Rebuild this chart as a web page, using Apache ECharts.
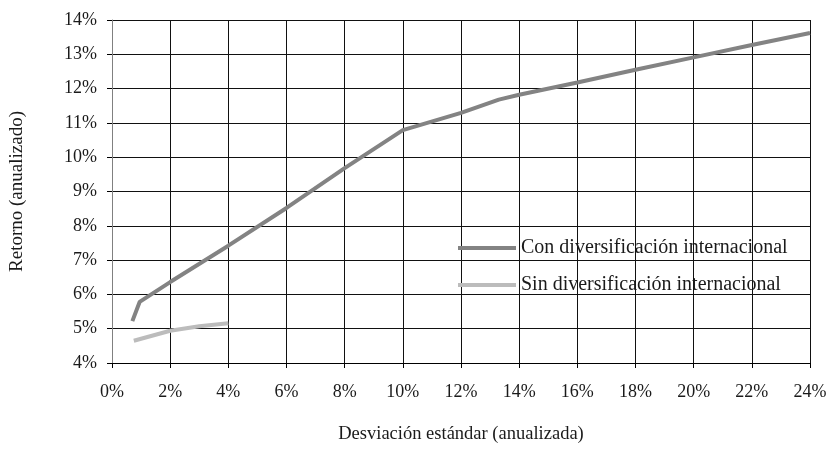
<!DOCTYPE html>
<html>
<head>
<meta charset="utf-8">
<script src="https://cdn.jsdelivr.net/npm/echarts@6/dist/echarts.min.js"></script>
<style>
  html, body { margin: 0; padding: 0; background: #ffffff; }
  #chart { width: 833px; height: 449px; }
</style>
</head>
<body>
<div id="chart"></div>
<script>
// Efficient frontier: standard deviation (x, %) vs annualized return (y, %)
const seriesNames = ['Con diversificación internacional', 'Sin diversificación internacional'];

const conRisk   = [0.70, 0.95, 2.0, 4.0, 6.0, 8.0, 10.0, 12.0, 13.3, 14.0, 16.0, 18.0, 20.0, 22.0, 24.0];
const conReturn = [5.22, 5.78, 6.36, 7.42, 8.52, 9.68, 10.79, 11.29, 11.68, 11.82, 12.18, 12.55, 12.91, 13.27, 13.62];

const sinRisk   = [0.75, 2.0, 3.0, 4.0];
const sinReturn = [4.65, 4.94, 5.07, 5.16];

const xTicks = { min: 0, max: 24, step: 2 };
const yTicks = { min: 4, max: 14, step: 1 };

const zip = (xs, ys) => xs.map((x, i) => [x, ys[i]]);

const fontFamily = '"Liberation Serif", "DejaVu Serif", serif';
const textColor = '#1a1a1a';

const chart = echarts.init(document.getElementById('chart'), null, { renderer: 'canvas' });

const legendBase = {
  orient: 'vertical',
  padding: 0,
  icon: 'rect',
  itemWidth: 58,
  itemHeight: 4,
  textStyle: { fontFamily, fontSize: 20, color: textColor }
};

chart.setOption({
  animation: false,
  backgroundColor: '#ffffff',
  grid: { left: 103, right: 23, top: 20, bottom: 79, containLabel: false },
  legend: [
    Object.assign({}, legendBase, { data: [seriesNames[0]], left: 458, top: 238 }),
    Object.assign({}, legendBase, { data: [seriesNames[1]], left: 458, top: 275 })
  ],
  xAxis: {
    type: 'value',
    min: xTicks.min, max: xTicks.max, interval: xTicks.step,
    name: 'Desviación estándar (anualizada)',
    nameLocation: 'middle', nameGap: 62,
    nameTextStyle: { fontFamily, fontSize: 18.5, color: textColor },
    axisLine: { show: true, lineStyle: { color: '#000000', width: 1 } },
    axisTick: { show: true, inside: false, length: 5, lineStyle: { color: '#000000' } },
    axisLabel: { formatter: '{value}%', margin: 20, fontFamily, fontSize: 18, color: textColor },
    splitLine: { show: true, lineStyle: { color: '#111111', width: 1 } }
  },
  yAxis: {
    type: 'value',
    min: yTicks.min, max: yTicks.max, interval: yTicks.step,
    name: 'Retorno (anualizado)',
    nameLocation: 'middle', nameGap: 85, nameRotate: 90,
    nameTextStyle: { fontFamily, fontSize: 19, color: textColor },
    axisLine: { show: true, lineStyle: { color: '#808080', width: 1 } },
    axisTick: { show: true, inside: false, length: 5, lineStyle: { color: '#000000' } },
    axisLabel: { formatter: '{value}%', margin: 15, fontFamily, fontSize: 18, color: textColor },
    splitLine: { show: true, lineStyle: { color: '#111111', width: 1 } }
  },
  series: [
    {
      name: seriesNames[0],
      type: 'line',
      data: zip(conRisk, conReturn),
      showSymbol: false, symbol: 'none',
      lineStyle: { color: '#838383', width: 4 },
      itemStyle: { color: '#838383' },
      z: 3
    },
    {
      name: seriesNames[1],
      type: 'line',
      data: zip(sinRisk, sinReturn),
      showSymbol: false, symbol: 'none',
      lineStyle: { color: '#bcbcbc', width: 4 },
      itemStyle: { color: '#bcbcbc' },
      z: 3
    }
  ]
});
</script>
</body>
</html>
